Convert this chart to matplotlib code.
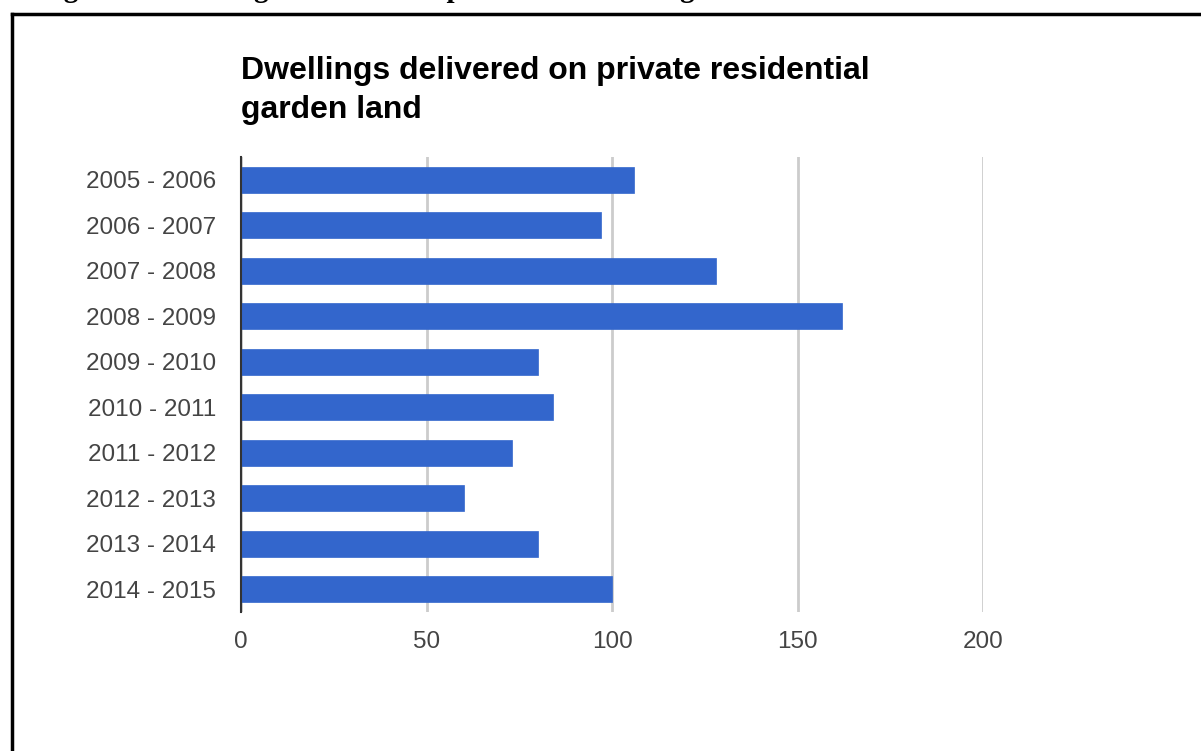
import matplotlib
matplotlib.use("Agg")
import matplotlib.pyplot as plt
from matplotlib.lines import Line2D

categories = ["2005 - 2006", "2006 - 2007", "2007 - 2008", "2008 - 2009", "2009 - 2010",
              "2010 - 2011", "2011 - 2012", "2012 - 2013", "2013 - 2014", "2014 - 2015"]
values = [106, 97, 128, 162, 80, 84, 73, 60, 80, 100]
x_ticks = [0, 50, 100, 150, 200]
title = "Dwellings delivered on private residential\ngarden land"
caption = "Figure 8: Dwellings delivered on private residential garden land"

W, H = 1201, 751
fig = plt.figure(figsize=(W / 100, H / 100), dpi=100)
fig.patch.set_facecolor("white")

ax = fig.add_axes([241 / W, 1 - 612 / H, (983 - 241) / W, (612 - 157) / H])
y = list(range(len(categories)))
ax.barh(y, values, height=0.57, color="#3366cc", edgecolor="#3366cc", linewidth=0.5, zorder=3)
ax.set_ylim(len(categories) - 0.5, -0.5)
ax.set_xlim(0, 200)
ax.set_xticks(x_ticks)
ax.set_xticklabels([str(t) for t in x_ticks])
ax.set_yticks(y)
ax.set_yticklabels(categories)
ax.tick_params(axis="both", length=0, labelsize=17.5, labelcolor="#444444")
ax.tick_params(axis="y", pad=18)
ax.tick_params(axis="x", pad=14)
for lab in ax.get_xticklabels() + ax.get_yticklabels():
    lab.set_fontfamily("Liberation Sans")
ax.grid(axis="x", color="#cccccc", linewidth=2, zorder=0)
for s in ["top", "right", "bottom"]:
    ax.spines[s].set_visible(False)
ax.spines["left"].set_color("#333333")
ax.spines["left"].set_linewidth(1.5)
ax.spines["left"].set_zorder(4)

fig.text(241 / W, 1 - 56 / H, title, fontsize=23, fontweight="bold", family="Liberation Sans",
         color="#000000", va="top", ha="left", linespacing=1.37)

# cut-off caption above the frame
fig.text(38 / W, 1 + 3 / H, caption, fontsize=21, fontweight="bold", family="Liberation Serif",
         color="#000000", va="baseline", ha="left")

# frame lines
fig.add_artist(Line2D([12 / W, 1.0], [1 - 14 / H, 1 - 14 / H], transform=fig.transFigure,
                      color="black", linewidth=2.5))
fig.add_artist(Line2D([12 / W, 12 / W], [0, 1 - 14 / H], transform=fig.transFigure,
                      color="black", linewidth=2.5))

fig.savefig("out.png", dpi=100, facecolor="white")
